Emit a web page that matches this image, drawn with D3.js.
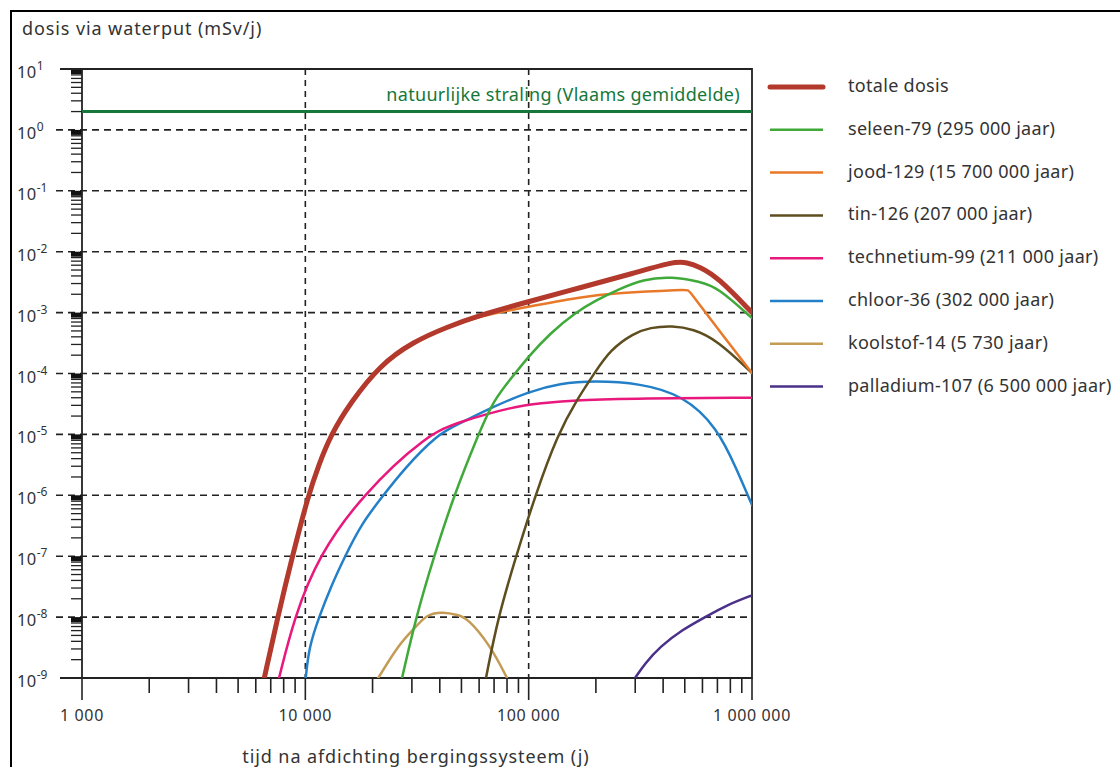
<!DOCTYPE html>
<html>
<head>
<meta charset="utf-8">
<title>dosis via waterput</title>
<style>
  body { margin: 0; background: #fff; }
  svg { display: block; font-family: "Noto Sans", sans-serif; }
  .lbl { fill: #333; }
</style>
</head>
<body>
<svg width="1120" height="767"></svg>
<script src="https://d3js.org/d3.v7.min.js"></script>
<script>
// years after closure vs. dose (mSv/j)
var totaleDosis = [[6550,1e-9],[7520,1e-8],[8750,1e-7],[10310,1e-6],[11480,3.16e-6],[13040,1e-5],[15900,3.3e-5],[21600,1.38e-4],[30300,3.3e-4],[43100,5.8e-4],[60600,9.1e-4],[98400,1.49e-3],[172000,2.6e-3],[294000,4.4e-3],[444000,6.9e-3],[512000,6.7e-3],[586000,5.6e-3],[700000,3.85e-3],[1000000,1.0e-3]];
var seleen79 = [[27100,1e-9],[31300,1e-8],[37700,1e-7],[46300,1e-6],[59600,1e-5],[69500,3.67e-5],[86900,1.0e-4],[99700,1.89e-4],[124700,4.57e-4],[161400,1.0e-3],[201800,1.61e-3],[249000,2.35e-3],[325400,3.56e-3],[439000,3.9e-3],[586000,3.21e-3],[698000,2.63e-3],[1000000,8.1e-4]];
var jood129 = [[6600,1e-9],[7520,1e-8],[8750,1e-7],[10310,1e-6],[11480,3.1e-6],[13040,1e-5],[15900,3.2e-5],[21600,1.35e-4],[30300,3.25e-4],[43100,5.7e-4],[60600,8.8e-4],[98400,1.24e-3],[170000,1.8e-3],[249000,2.1e-3],[500000,2.38e-3],[518000,2.35e-3],[535000,2.05e-3],[698000,5.6e-4],[1000000,1.02e-4]];
var tin126 = [[64400,1e-9],[72900,1e-8],[87900,1e-7],[107000,1e-6],[134900,1e-5],[164000,3.67e-5],[198300,1.05e-4],[231600,2.43e-4],[294300,4.57e-4],[350000,5.7e-4],[439000,6.1e-4],[545000,5.4e-4],[698000,3.55e-4],[1000000,1.02e-4]];
var technetium99 = [[7625,1e-9],[8930,1e-8],[11440,1e-7],[17890,1e-6],[35000,1e-5],[49300,1.62e-5],[85100,2.85e-5],[112500,3.24e-5],[164000,3.67e-5],[315000,3.92e-5],[1000000,4.0e-5]];
var chloor36 = [[10040,1e-9],[10390,3.27e-9],[11520,1e-8],[13030,3.2e-8],[15060,1e-7],[17890,3.47e-7],[22350,1e-6],[27400,2.6e-6],[38900,1e-5],[49300,1.52e-5],[69500,2.85e-5],[99700,5.02e-5],[138300,6.9e-5],[195000,7.6e-5],[317000,6.9e-5],[491000,4.4e-5],[698000,1.32e-5],[857000,2.6e-6],[1000000,6.9e-7]];
var koolstof14 = [[21200,1e-9],[26500,3.8e-9],[31300,6.9e-9],[34980,1.11e-8],[41250,1.22e-8],[48440,1.08e-8],[53000,9.7e-9],[67100,3.5e-9],[80000,1e-9]];
var palladium107 = [[299600,1e-9],[332100,1.74e-9],[387700,3.27e-9],[484900,6.14e-9],[623500,1.02e-8],[771800,1.58e-8],[1000000,2.28e-8]];

var natuurlijkeStraling = 2.0;

var seriesNames = ["totale dosis", "seleen-79 (295 000 jaar)", "jood-129 (15 700 000 jaar)", "tin-126 (207 000 jaar)", "technetium-99 (211 000 jaar)", "chloor-36 (302 000 jaar)", "koolstof-14 (5 730 jaar)", "palladium-107 (6 500 000 jaar)"];
var seriesData = [totaleDosis, seleen79, jood129, tin126, technetium99, chloor36, koolstof14, palladium107];
var seriesColors = ["#b2392b", "#3faa3a", "#e8792a", "#5e4d1f", "#e8187c", "#2380c8", "#c39b55", "#4a3088"];

var xTicks = [1000, 10000, 100000, 1000000];
var xTickLabels = ["1 000", "10 000", "100 000", "1 000 000"];
var yExponents = [1, 0, -1, -2, -3, -4, -5, -6, -7, -8, -9];

var svg = d3.select("svg"),
    pLeft = 82, pTop = 69, pRight = 752, pBottom = 678;

var x = d3.scaleLog().domain([1000, 1000000]).range([pLeft, pRight]);
var y = d3.scaleLog().domain([1e-9, 10]).range([pBottom, pTop]);

// outer frame
svg.append("path").attr("d", "M11,767V11H1120").attr("fill", "none").attr("stroke", "#000").attr("stroke-width", 2);

svg.append("text").attr("class", "lbl").attr("x", 22).attr("y", 35)
    .style("font-size", "18px").style("letter-spacing", "0.9px").text("dosis via waterput (mSv/j)");

var g = svg.append("g");

// horizontal grid (dashed) at decades
g.selectAll(".hgrid")
    .data(yExponents.filter(function (e) { return e < 1 && e > -9; }))
    .enter().append("line")
    .attr("x1", 56).attr("x2", pRight)
    .attr("y1", function (e) { return y(Math.pow(10, e)); })
    .attr("y2", function (e) { return y(Math.pow(10, e)); })
    .attr("stroke", "#222").attr("stroke-width", 1.6).attr("stroke-dasharray", "7,5");

// vertical grid
g.selectAll(".vgrid")
    .data([10000, 100000])
    .enter().append("line")
    .attr("x1", function (d) { return x(d); }).attr("x2", function (d) { return x(d); })
    .attr("y1", pTop).attr("y2", pBottom)
    .attr("stroke", "#222").attr("stroke-width", 1.6).attr("stroke-dasharray", "6,5");

// y minor ticks
var yMinor = [];
yExponents.forEach(function (e) {
    if (e > -9) for (var k = 2; k <= 9; k++) yMinor.push(k * Math.pow(10, e - 1));
});
g.selectAll(".ymin").data(yMinor).enter().append("line")
    .attr("x1", 71).attr("x2", pLeft)
    .attr("y1", function (d) { return y(d); }).attr("y2", function (d) { return y(d); })
    .attr("stroke", "#222").attr("stroke-width", 1.3);
g.selectAll(".yblock").data(yExponents.filter(function (e) { return e > -9; })).enter().append("rect")
    .attr("x", 71).attr("width", pLeft - 71)
    .attr("y", function (e) { return y(Math.pow(10, e)); }).attr("height", 5)
    .attr("fill", "#111");

// y labels 10^n
var yl = g.selectAll(".ylab").data(yExponents).enter().append("text")
    .attr("class", "lbl")
    .attr("x", 17).attr("y", function (e) { return y(Math.pow(10, e)) + 9; })
    .style("font-size", "16.5px").style("letter-spacing", "0.4px");
yl.append("tspan").text("10");
yl.append("tspan").attr("dy", -8).style("font-size", "12px").style("letter-spacing", "0px")
    .text(function (e) { return e; });

// x minor ticks
var xMinor = [];
[1000, 10000, 100000].forEach(function (d) { for (var k = 2; k <= 9; k++) xMinor.push(k * d); });
g.selectAll(".xmin").data(xMinor).enter().append("line")
    .attr("x1", function (d) { return x(d); }).attr("x2", function (d) { return x(d); })
    .attr("y1", pBottom).attr("y2", pBottom + 15)
    .attr("stroke", "#222").attr("stroke-width", 1.6);
g.selectAll(".xmaj").data(xTicks).enter().append("line")
    .attr("x1", function (d) { return x(d); }).attr("x2", function (d) { return x(d); })
    .attr("y1", pBottom).attr("y2", pBottom + 22)
    .attr("stroke", "#222").attr("stroke-width", 1.6);
g.selectAll(".xlab").data(xTicks).enter().append("text")
    .attr("class", "lbl")
    .attr("x", function (d) { return x(d); }).attr("y", 721)
    .attr("text-anchor", "middle").style("font-size", "16px").style("letter-spacing", "0.6px")
    .text(function (d, i) { return xTickLabels[i]; });

svg.append("text").attr("class", "lbl").attr("x", 416).attr("y", 763)
    .attr("text-anchor", "middle").style("font-size", "18px").style("letter-spacing", "0.9px")
    .text("tijd na afdichting bergingssysteem (j)");

// frame of plot
g.append("path")
    .attr("d", "M60," + pTop + "H" + pRight + "V" + pBottom + "H60")
    .attr("fill", "none").attr("stroke", "#222").attr("stroke-width", 1.8);
g.append("line").attr("x1", pLeft).attr("x2", pLeft).attr("y1", pTop).attr("y2", pBottom)
    .attr("stroke", "#222").attr("stroke-width", 1.8);

// natural radiation
g.append("line").attr("x1", pLeft).attr("x2", pRight)
    .attr("y1", y(natuurlijkeStraling)).attr("y2", y(natuurlijkeStraling))
    .attr("stroke", "#16773a").attr("stroke-width", 3);
g.append("text").attr("x", 740).attr("y", y(natuurlijkeStraling) - 11)
    .attr("text-anchor", "end").attr("fill", "#16773a")
    .style("font-size", "18px").style("letter-spacing", "0.3px")
    .text("natuurlijke straling (Vlaams gemiddelde)");

// curves
svg.append("clipPath").attr("id", "plotclip").append("rect")
    .attr("x", pLeft).attr("y", pTop).attr("width", pRight - pLeft).attr("height", pBottom - pTop);

var line = d3.line()
    .x(function (d) { return x(d[0]); })
    .y(function (d) { return y(d[1]); })
    .curve(d3.curveBasis);

var order = [7, 6, 5, 4, 3, 2, 1, 0];
g.append("g").attr("clip-path", "url(#plotclip)")
    .selectAll("path").data(order).enter().append("path")
    .attr("d", function (i) { return line(seriesData[i]); })
    .attr("fill", "none")
    .attr("stroke", function (i) { return seriesColors[i]; })
    .attr("stroke-width", function (i) { return i === 0 ? 5 : 2.5; })
    .attr("stroke-linecap", "round");

// legend
var leg = svg.append("g").selectAll("g").data(seriesNames).enter().append("g")
    .attr("transform", function (d, i) { return "translate(0," + (87 + i * 42.8) + ")"; });
leg.append("line").attr("x1", 770).attr("x2", 823)
    .attr("stroke", function (d, i) { return seriesColors[i]; })
    .attr("stroke-width", function (d, i) { return i === 0 ? 5 : 2.5; })
    .attr("stroke-linecap", function (d, i) { return i === 0 ? "round" : "butt"; });
leg.append("text").attr("class", "lbl").attr("x", 848).attr("y", 5)
    .style("font-size", "18px").style("letter-spacing", "0.3px").text(function (d) { return d; });
</script>
</body>
</html>
